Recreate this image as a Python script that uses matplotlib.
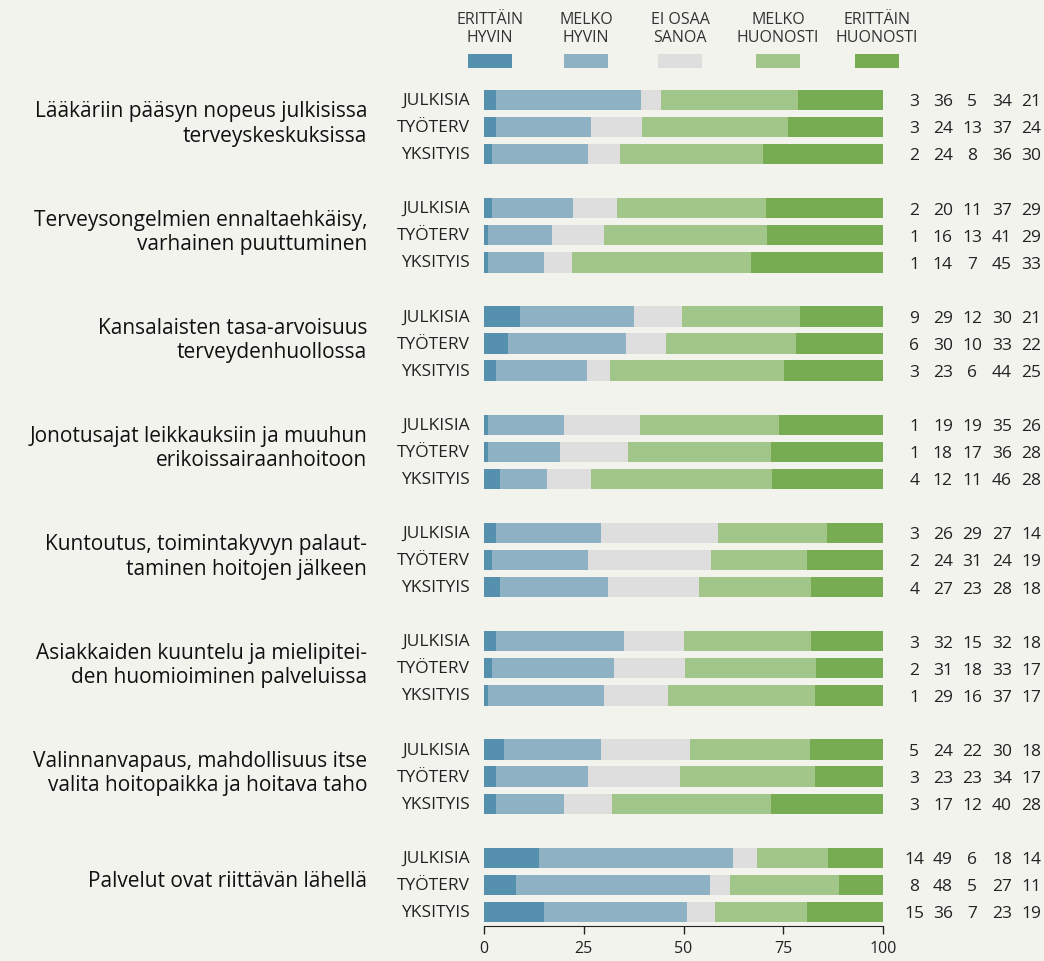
import matplotlib.pyplot as plt
import numpy as np

plt.rcParams['font.family'] = ['Open Sans', 'DejaVu Sans']

questions = [
    "Lääkäriin pääsyn nopeus julkisissa\nterveyskeskuksissa",
    "Terveysongelmien ennaltaehkäisy,\nvarhainen puuttuminen",
    "Kansalaisten tasa-arvoisuus\nterveydenhuollossa",
    "Jonotusajat leikkauksiin ja muuhun\nerikoissairaanhoitoon",
    "Kuntoutus, toimintakyvyn palaut-\ntaminen hoitojen jälkeen",
    "Asiakkaiden kuuntelu ja mielipitei-\nden huomioiminen palveluissa",
    "Valinnanvapaus, mahdollisuus itse\nvalita hoitopaikka ja hoitava taho",
    "Palvelut ovat riittävän lähellä",
]
providers = ["JULKISIA", "TYÖTERV", "YKSITYIS"]
legend_labels = ["ERITTÄIN\nHYVIN", "MELKO\nHYVIN", "EI OSAA\nSANOA", "MELKO\nHUONOSTI", "ERITTÄIN\nHUONOSTI"]
colors = ["#5590ae", "#8fb1c4", "#dedede", "#a2c589", "#78ac53"]

julkisia = [[3, 36, 5, 34, 21], [2, 20, 11, 37, 29], [9, 29, 12, 30, 21], [1, 19, 19, 35, 26],
            [3, 26, 29, 27, 14], [3, 32, 15, 32, 18], [5, 24, 22, 30, 18], [14, 49, 6, 18, 14]]
tyoterv = [[3, 24, 13, 37, 24], [1, 16, 13, 41, 29], [6, 30, 10, 33, 22], [1, 18, 17, 36, 28],
           [2, 24, 31, 24, 19], [2, 31, 18, 33, 17], [3, 23, 23, 34, 17], [8, 48, 5, 27, 11]]
yksityis = [[2, 24, 8, 36, 30], [1, 14, 7, 45, 33], [3, 23, 6, 44, 25], [4, 12, 11, 46, 28],
            [4, 27, 23, 28, 18], [1, 29, 16, 37, 17], [3, 17, 12, 40, 28], [15, 36, 7, 23, 19]]

bg = "#f3f3ee"
fig = plt.figure(figsize=(10.44, 9.62), dpi=100, facecolor=bg)
ax = fig.add_axes([0.4636, 0.0364, 0.3822, 0.8752])
ax.set_facecolor(bg)

val_x = [1.078, 1.150, 1.223, 1.298, 1.371]
for g in range(len(questions)):
    rows = [julkisia[g], tyoterv[g], yksityis[g]]
    for r, vals in enumerate(rows):
        y = g * 4 + r
        vals = np.array(vals, dtype=float)
        # bars are drawn scaled to a full 100 % width
        scaled = vals / vals.sum() * 100
        left = 0
        for k in range(5):
            ax.barh(y, scaled[k], left=left, height=0.75, color=colors[k], linewidth=0)
            left += scaled[k]
        ax.text(-0.035, y, providers[r], transform=ax.get_yaxis_transform(),
                ha='right', va='center', fontsize=12.5, color='#222222')
        for k in range(5):
            ax.text(val_x[k], y + 0.05, str(int(vals[k])), transform=ax.get_yaxis_transform(),
                    ha='center', va='center', fontsize=12.5, color='#222222')
    ax.text(-0.293, g * 4 + 0.85, questions[g], transform=ax.get_yaxis_transform(),
            ha='right', va='center', fontsize=15, color='#111111', linespacing=1.2)

ax.set_xlim(0, 100)
ax.set_ylim(30.52, -0.59)
ax.set_yticks([])
ax.set_xticks([0, 25, 50, 75, 100])
ax.tick_params(axis='x', length=6, width=1, labelsize=11.5, colors='#222222', pad=4)
for s in ['top', 'right', 'left']:
    ax.spines[s].set_visible(False)
ax.spines['bottom'].set_color('#222222')

# legend
leg_x = [490, 586, 680, 778, 877]
for k in range(5):
    fx = leg_x[k] / 1044
    fig.patches.append(plt.Rectangle((fx - 22 / 1044, 1 - 69 / 962), 44 / 1044, 14 / 962,
                                     transform=fig.transFigure, color=colors[k], linewidth=0))
    fig.text(fx, 1 - 29 / 962, legend_labels[k], ha='center', va='center', fontsize=11.5,
             color='#333333', linespacing=1.25)

fig.savefig("out.png", dpi=100, facecolor=bg)
